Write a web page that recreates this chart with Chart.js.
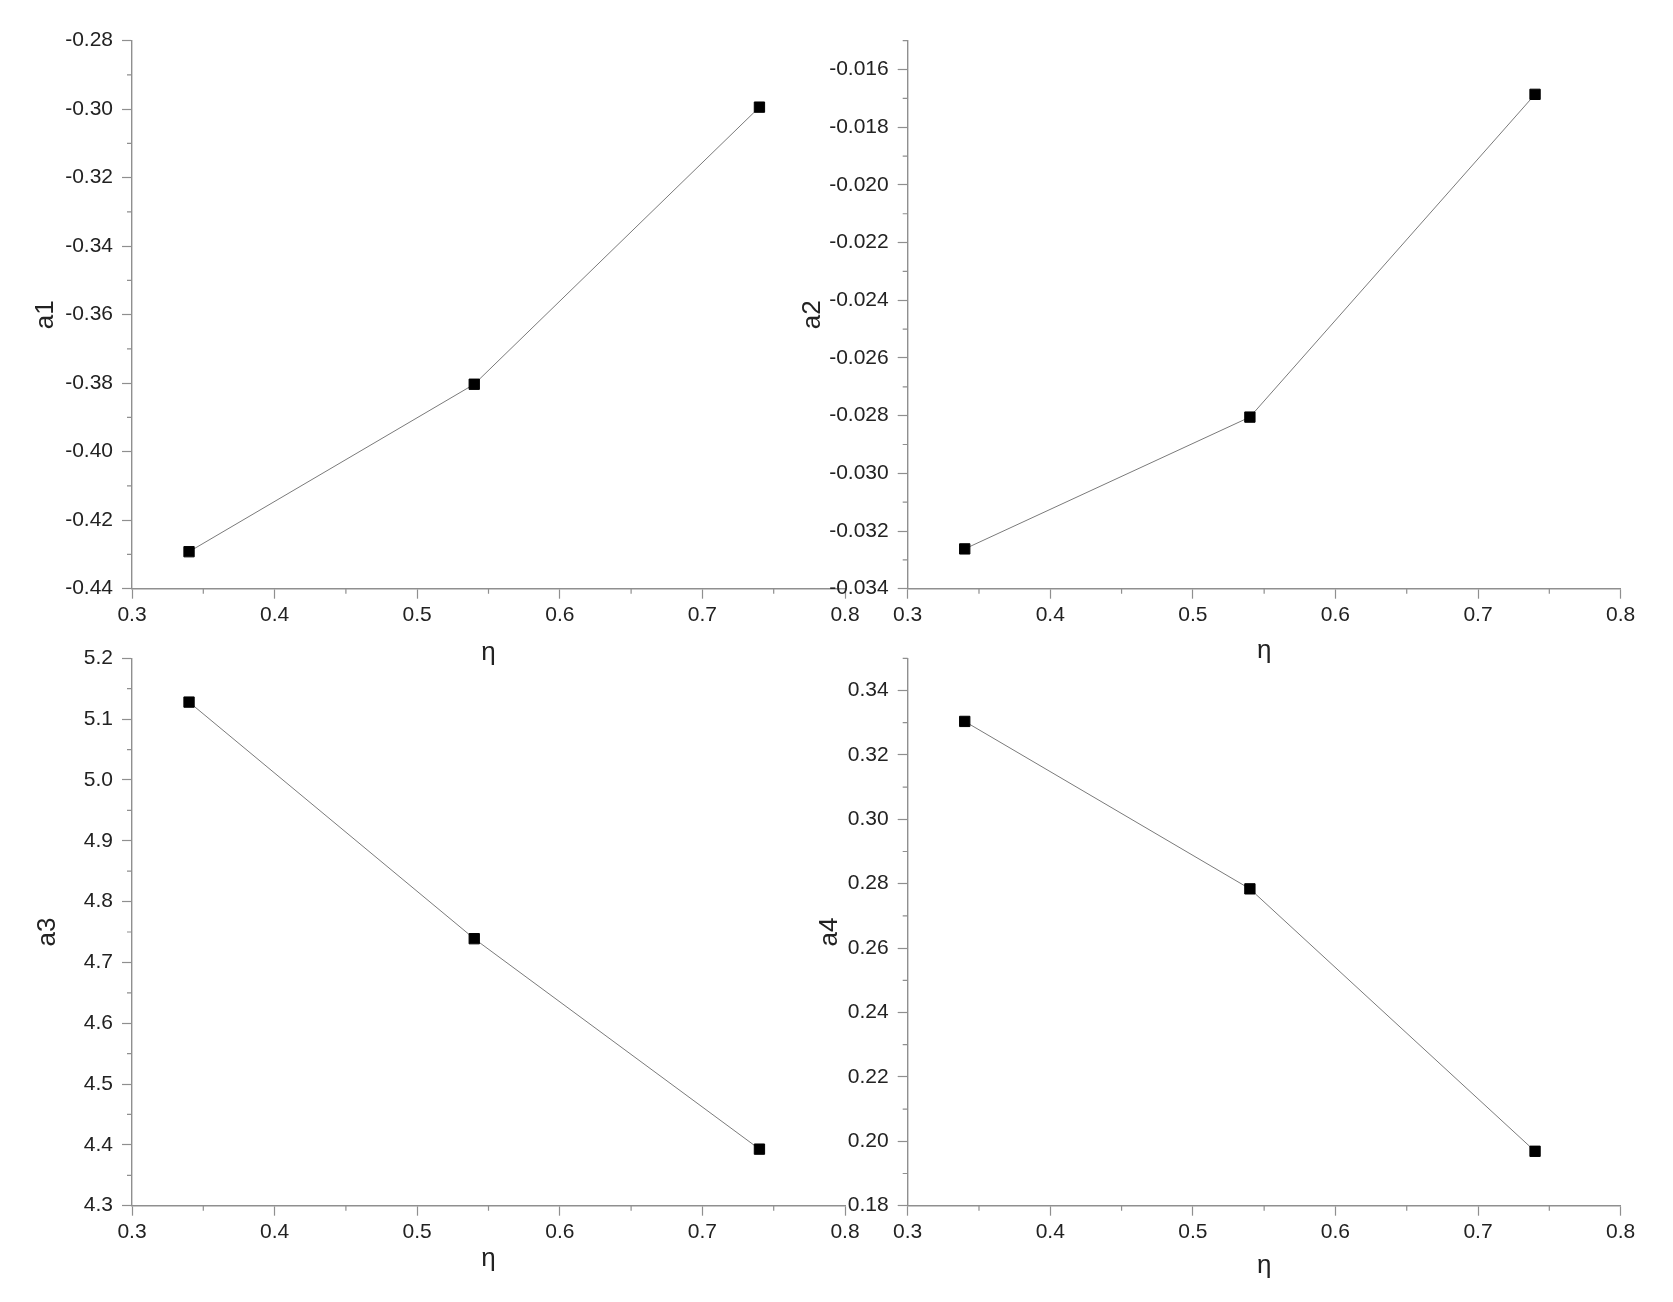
<!DOCTYPE html>
<html><head><meta charset="utf-8">
<script src="https://cdn.jsdelivr.net/npm/chart.js@4.4.0/dist/chart.umd.min.js"></script>
<style>
html,body{margin:0;padding:0;background:#fff;}
#wrap{position:relative;width:1673px;height:1302px;overflow:hidden;background:#fff;}
canvas{position:absolute;left:0;top:0;}
</style></head><body>
<div id="wrap">
<canvas id="c1" width="1673" height="1302"></canvas>
<canvas id="c2" width="1673" height="1302"></canvas>
<canvas id="c3" width="1673" height="1302"></canvas>
<canvas id="c4" width="1673" height="1302"></canvas>
</div>
<script>
// ---- data ----
const eta = [0.34, 0.54, 0.74];
const a1 = [-0.4292, -0.3803, -0.2994];
const a2 = [-0.03262, -0.02805, -0.01686];
const a3 = [5.128, 4.739, 4.393];
const a4 = [0.3304, 0.2784, 0.1969];

// ---- tick labels ----
const xTickLabels = ['0.3', '0.4', '0.5', '0.6', '0.7', '0.8'];
const a1TickLabels = ['-0.44', '-0.42', '-0.40', '-0.38', '-0.36', '-0.34', '-0.32', '-0.30', '-0.28'];
const a2TickLabels = ['-0.034', '-0.032', '-0.030', '-0.028', '-0.026', '-0.024', '-0.022', '-0.020', '-0.018', '-0.016'];
const a3TickLabels = ['4.3', '4.4', '4.5', '4.6', '4.7', '4.8', '4.9', '5.0', '5.1', '5.2'];
const a4TickLabels = ['0.18', '0.20', '0.22', '0.24', '0.26', '0.28', '0.30', '0.32', '0.34'];

const FONT = 'Liberation Sans, Arial, Helvetica, sans-serif';
const AXIS = '#8f8f8f';
const TXT = '#222';
const TITLE_SIZE = 26;

const panels = [
  {id:'c1', y:a1, yLabels:a1TickLabels, yMin:-0.44, yMax:-0.28, yStep:0.02, title:'a1',
   area:{left:132, right:845, top:40.7, bottom:588.7}, yTitleX:46, xTitleY:653},
  {id:'c2', y:a2, yLabels:a2TickLabels, yMin:-0.034, yMax:-0.015, yStep:0.002, title:'a2',
   area:{left:907.7, right:1620.6, top:40.7, bottom:588.7}, yTitleX:813, xTitleY:651},
  {id:'c3', y:a3, yLabels:a3TickLabels, yMin:4.3, yMax:5.2, yStep:0.1, title:'a3',
   area:{left:132, right:845, top:658.3, bottom:1205.7}, yTitleX:48, xTitleY:1259},
  {id:'c4', y:a4, yLabels:a4TickLabels, yMin:0.18, yMax:0.35, yStep:0.02, title:'a4',
   area:{left:907.7, right:1620.6, top:658.3, bottom:1205.7}, yTitleX:830, xTitleY:1266}
];

const minorTicks = {
  id: 'minorTicks',
  afterDraw(chart) {
    const ctx = chart.ctx;
    const xs = chart.scales.x, ys = chart.scales.y;
    const o = chart.options.plugins.minorTicks;
    ctx.save();
    ctx.strokeStyle = AXIS;
    ctx.lineWidth = 1.2;
    ctx.beginPath();
    for (let k = 0; ; k++) {
      const v = xs.min + o.xStep * (k + 0.5);
      if (v > xs.max + 1e-9) break;
      const px = xs.getPixelForValue(v);
      ctx.moveTo(px, xs.top); ctx.lineTo(px, xs.top + 5);
    }
    for (let k = 0; ; k++) {
      const v = ys.min + o.yStep * (k + 0.5);
      if (v > ys.max + 1e-9) break;
      const py = ys.getPixelForValue(v);
      ctx.moveTo(ys.right, py); ctx.lineTo(ys.right - 5, py);
    }
    ctx.stroke();
    ctx.restore();
  }
};

panels.forEach(p => {
  const lh = TITLE_SIZE;
  const padLeft = p.yTitleX - lh / 2;
  const W = p.area.left - padLeft;
  const H = p.xTitleY - p.area.bottom + lh / 2;
  const pad = {left: padLeft, top: p.area.top, right: 1673 - p.area.right, bottom: 1302 - p.area.bottom - H};
  const yVals = p.yLabels.map(s => parseFloat(s));
  const xVals = xTickLabels.map(s => parseFloat(s));
  new Chart(document.getElementById(p.id), {
    type: 'line',
    data: {
      datasets: [{
        data: eta.map((x, i) => ({x: x, y: p.y[i]})),
        borderColor: '#7a7a7a',
        borderWidth: 1,
        pointStyle: 'rect',
        pointRadius: 7.3,
        pointBorderWidth: 1,
        pointBackgroundColor: '#000',
        pointBorderColor: '#000',
        tension: 0,
        fill: false
      }]
    },
    options: {
      responsive: false,
      animation: false,
      devicePixelRatio: 1,
      layout: {padding: pad},
      plugins: {legend: {display: false}, tooltip: {enabled: false},
        minorTicks: {xStep: 0.1, yStep: p.yStep}},
      scales: {
        x: {
          type: 'linear', min: 0.3, max: 0.8,
          afterBuildTicks: s => { s.ticks = xVals.map(v => ({value: v})); },
          afterFit: s => { s.height = H; },
          ticks: {autoSkip: false, maxRotation: 0, padding: 4, color: TXT,
            font: {family: FONT, size: 21},
            callback: (v, i) => xTickLabels[i]},
          grid: {drawOnChartArea: false, drawTicks: true, tickLength: 10, tickColor: AXIS, tickWidth: 1.2},
          border: {display: true, color: AXIS, width: 1.4},
          title: {display: true, text: 'η', color: TXT, padding: 0,
            font: {family: FONT, size: TITLE_SIZE, lineHeight: 1}}
        },
        y: {
          type: 'linear', min: p.yMin, max: p.yMax,
          afterBuildTicks: s => { s.ticks = yVals.map(v => ({value: v})); },
          afterFit: s => { s.width = W; },
          ticks: {autoSkip: false, padding: 9, color: TXT,
            font: {family: FONT, size: 21},
            callback: (v, i) => p.yLabels[i]},
          grid: {drawOnChartArea: false, drawTicks: true, tickLength: 10, tickColor: AXIS, tickWidth: 1.2},
          border: {display: true, color: AXIS, width: 1.4},
          title: {display: true, text: p.title, color: TXT, padding: 0,
            font: {family: FONT, size: TITLE_SIZE, lineHeight: 1}}
        }
      }
    },
    plugins: [minorTicks]
  });
});
</script>
</body></html>
